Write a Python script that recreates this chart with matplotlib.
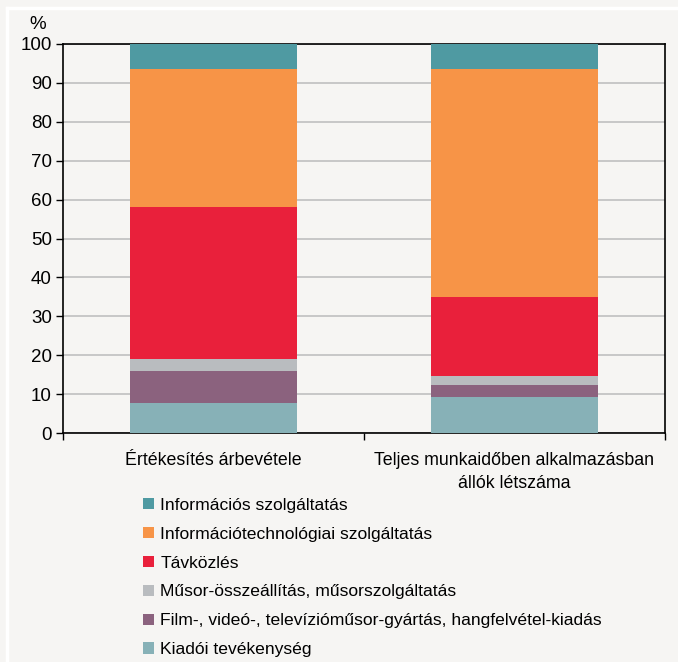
import matplotlib
matplotlib.use('Agg')
import matplotlib.pyplot as plt
from matplotlib.lines import Line2D
from matplotlib.patches import Patch

plt.rcParams['font.family'] = ['Liberation Sans', 'DejaVu Sans']

# ──────────────────────── DATA ─────────────────────────
categories = ['Értékesítés árbevétele', 'Teljes munkaidőben alkalmazásban\nállók létszáma']
series_names = [
    'Kiadói tevékenység',
    'Film-, videó-, televízióműsor-gyártás, hangfelvétel-kiadás',
    'Műsor-összeállítás, műsorszolgáltatás',
    'Távközlés',
    'Információtechnológiai szolgáltatás',
    'Információs szolgáltatás',
]
kiadoi = [7.8, 9.3]
film = [8.2, 3.0]
musor = [3.0, 2.4]
tavkozles = [39.1, 20.3]
it_szolg = [35.5, 58.6]
info_szolg = [6.4, 6.4]
yticks = list(range(0, 101, 10))

colors = ['#87b1b7', '#8b627e', '#b9bcbf', '#e9203b', '#f79447', '#4f9aa2']
BG = '#f6f5f3'

# ──────────────────────── PLOT ─────────────────────────
fig = plt.figure(figsize=(6.78, 6.62), dpi=100)
fig.patch.set_facecolor(BG)
ax = fig.add_axes([63 / 678, 1 - 433 / 662, 602 / 678, 389 / 662])
ax.set_facecolor(BG)

x = list(range(len(categories)))
bottom = [0.0] * len(categories)
for vals, col in zip([kiadoi, film, musor, tavkozles, it_szolg, info_szolg], colors):
    ax.bar(x, vals, width=0.555, bottom=bottom, color=col, edgecolor='none', zorder=3)
    bottom = [b + v for b, v in zip(bottom, vals)]

ax.set_xlim(-0.5, 1.5)
ax.set_ylim(0, 100)
ax.set_yticks(yticks)
ax.set_yticklabels([str(t) for t in yticks], fontsize=13.5)
ax.yaxis.grid(True, color='#c4c4c4', linewidth=1.3, zorder=0)
ax.set_axisbelow(True)

# category labels between boundary ticks
ax.set_xticks([-0.5, 0.5, 1.5])
ax.set_xticklabels([])
ax.set_xticks(x, minor=True)
ax.set_xticklabels(categories, minor=True, fontsize=12.8, linespacing=1.4)
ax.tick_params(axis='x', which='minor', length=0, pad=14)
ax.tick_params(axis='x', which='major', direction='out', length=5, width=1)
ax.tick_params(axis='y', direction='out', length=5, width=1, pad=3)

for sp in ax.spines.values():
    sp.set_color('black')
    sp.set_linewidth(1.2)

ax.text(-0.042, 1.05, '%', transform=ax.transAxes, fontsize=13.5, ha='center', va='center')

# legend below
handles = [Patch(facecolor=c, edgecolor='none') for c in reversed(colors)]
labels = list(reversed(series_names))
fig.legend(handles, labels, loc='upper left', bbox_to_anchor=(143 / 678, 1 - 498 / 662),
           frameon=False, fontsize=12.6, handlelength=0.6, handleheight=0.6,
           handletextpad=0.4, labelspacing=0.79, borderaxespad=0, borderpad=0)

# white frame lines top/left
fig.add_artist(Line2D([6.5 / 678, 6.5 / 678], [0, 1 - 8 / 662], color='white', linewidth=2.5,
                      transform=fig.transFigure))
fig.add_artist(Line2D([6.5 / 678, 1], [1 - 8 / 662, 1 - 8 / 662], color='white', linewidth=2.5,
                      transform=fig.transFigure))

fig.savefig('out.png', dpi=100, facecolor=BG)
plt.close(fig)
